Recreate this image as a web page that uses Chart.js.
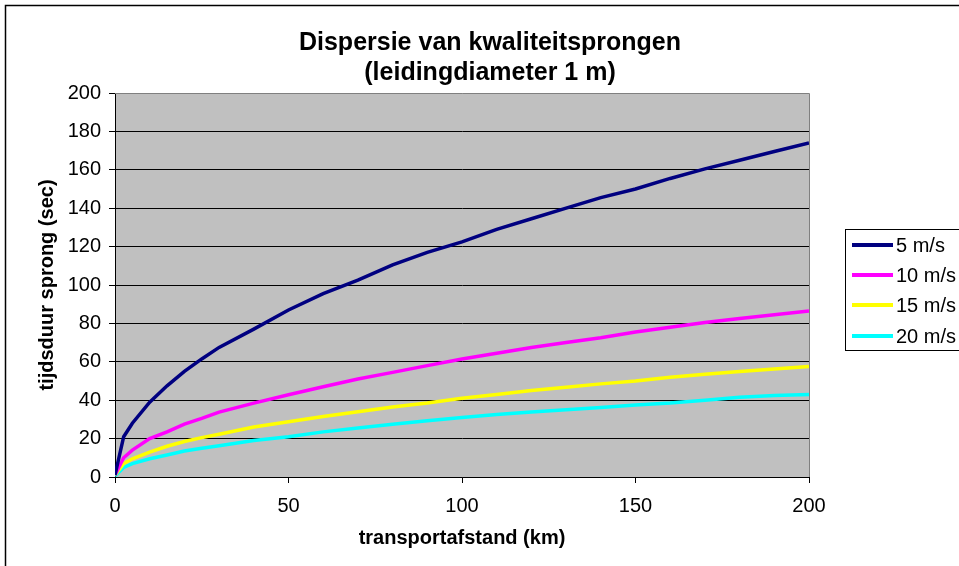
<!DOCTYPE html>
<html>
<head>
<meta charset="utf-8">
<script src="https://cdn.jsdelivr.net/npm/chart.js@4/dist/chart.umd.min.js"></script>
<style>
  html, body { margin: 0; padding: 0; background: #ffffff; }
  #wrap { width: 959px; height: 566px; }
</style>
</head>
<body>
<div id="wrap"><canvas id="chart" width="959" height="566"></canvas></div>
<script>
// Transport distance (km) at which each series is sampled
const afstand = [0, 2.5, 5, 10, 15, 20, 25, 30, 40, 50, 60, 70, 80, 90, 100, 110, 120, 130, 140, 150, 160, 170, 180, 190, 200];

// Duration of the quality jump (sec) per flow velocity
const snelheid5 = [1, 21, 28, 39, 47.5, 55, 61.5, 67.5, 77, 87, 95.5, 102.5, 110.5, 117, 122.5, 129, 134.5, 140, 145.5, 150, 155.5, 160.5, 165, 169.5, 174];
const snelheid10 = [1, 10, 14, 20, 23.5, 27.5, 30.5, 33.8, 38.5, 42.8, 47, 51, 54.5, 58, 61.5, 64.5, 67.5, 70, 72.5, 75.5, 78, 80.5, 82.5, 84.5, 86.5];
const snelheid15 = [1, 7, 9.5, 13, 16, 18.5, 20.5, 22.3, 26, 28.8, 31.5, 34, 36.5, 38.5, 41, 43, 45, 46.8, 48.5, 50, 52, 53.5, 55, 56.3, 57.5];
const snelheid20 = [0.5, 5, 7, 9.5, 11.5, 13.5, 15, 16.3, 19, 21, 23.5, 25.5, 27.5, 29.3, 31, 32.5, 33.8, 35, 36.2, 37.5, 38.5, 40, 41.5, 42.5, 43];

const reeksNamen = ['5 m/s', '10 m/s', '15 m/s', '20 m/s'];
const reeksKleuren = ['#000080', '#FF00FF', '#FFFF00', '#00FFFF'];
const xTicks = [0, 50, 100, 150, 200];
const yTicks = [0, 20, 40, 60, 80, 100, 120, 140, 160, 180, 200];
const titelRegels = ['Dispersie van kwaliteitsprongen', '(leidingdiameter 1 m)'];

const FONT = '"Liberation Sans", Arial, sans-serif';
const reeksen = [snelheid5, snelheid10, snelheid15, snelheid20];

const datasets = reeksen.map((waarden, i) => ({
  label: reeksNamen[i],
  data: afstand.map((x, j) => ({ x: x, y: waarden[j] })),
  borderColor: reeksKleuren[i],
  backgroundColor: reeksKleuren[i],
  borderWidth: 3.5,
  pointRadius: 0,
  tension: 0,
  fill: false
}));

// Page frame, grey plot background, plot border, title and legend box
const decor = {
  id: 'decor',
  beforeDraw(chart) {
    const { ctx, chartArea: a } = chart;
    ctx.save();
    ctx.fillStyle = '#ffffff';
    ctx.fillRect(0, 0, chart.width, chart.height);
    ctx.fillStyle = '#C0C0C0';
    ctx.fillRect(a.left, a.top, a.right - a.left, a.bottom - a.top);
    ctx.restore();
  },
  afterDraw(chart) {
    const { ctx, chartArea: a } = chart;
    ctx.save();
    // grey plot border (top and right)
    ctx.strokeStyle = '#808080';
    ctx.lineWidth = 1;
    ctx.beginPath();
    ctx.moveTo(a.left, a.top + 0.5);
    ctx.lineTo(a.right + 0.5, a.top + 0.5);
    ctx.lineTo(a.right + 0.5, a.bottom);
    ctx.stroke();

    // outer frame
    ctx.strokeStyle = '#000000';
    ctx.lineWidth = 1.5;
    ctx.strokeRect(5.5, 5.5, 1000, 700);

    // title
    ctx.fillStyle = '#000000';
    ctx.font = 'bold 25px ' + FONT;
    ctx.textAlign = 'center';
    ctx.textBaseline = 'middle';
    ctx.fillText(titelRegels[0], 490, 43);
    ctx.fillText(titelRegels[1], 490, 73);

    // legend
    ctx.lineWidth = 1;
    ctx.strokeStyle = '#000000';
    ctx.fillStyle = '#ffffff';
    ctx.fillRect(845.5, 229.5, 200, 121);
    ctx.strokeRect(845.5, 229.5, 200, 121);
    const rijY = [245, 275, 305, 336];
    ctx.font = '20px ' + FONT;
    ctx.textAlign = 'left';
    chart.data.datasets.forEach((ds, i) => {
      ctx.strokeStyle = ds.borderColor;
      ctx.lineWidth = 4;
      ctx.beginPath();
      ctx.moveTo(852, rijY[i]);
      ctx.lineTo(893, rijY[i]);
      ctx.stroke();
      ctx.fillStyle = '#000000';
      ctx.fillText(ds.label, 896, rijY[i] + 1);
    });
    ctx.restore();
  }
};

new Chart(document.getElementById('chart'), {
  type: 'line',
  data: { datasets: datasets },
  plugins: [decor],
  options: {
    responsive: false,
    animation: false,
    layout: { padding: { top: 93, right: 150, bottom: 0, left: 0 } },
    plugins: {
      legend: { display: false },
      title: { display: false },
      tooltip: { enabled: false }
    },
    scales: {
      x: {
        type: 'linear',
        min: 0,
        max: 200,
        afterBuildTicks(scale) { scale.ticks = xTicks.map(v => ({ value: v })); },
        afterFit(scale) { scale.height = 89; },
        ticks: {
          color: '#000000',
          font: { family: FONT, size: 20 },
          padding: 11,
          maxRotation: 0,
          autoSkip: false
        },
        grid: {
          drawOnChartArea: false,
          tickLength: 6,
          color: '#000000',
          tickColor: '#000000'
        },
        border: { color: '#000000', width: 1 },
        title: {
          display: true,
          text: 'transportafstand (km)',
          color: '#000000',
          font: { family: FONT, size: 20, weight: 'bold' },
          padding: { top: 0, bottom: 16 }
        }
      },
      y: {
        type: 'linear',
        min: 0,
        max: 200,
        afterBuildTicks(scale) { scale.ticks = yTicks.map(v => ({ value: v })); },
        afterFit(scale) { scale.width = 115; },
        ticks: {
          color: '#000000',
          font: { family: FONT, size: 20 },
          padding: 8,
          autoSkip: false
        },
        grid: {
          tickLength: 6,
          color: (c) => (c.tick && c.tick.value === 200) ? 'rgba(0,0,0,0)' : '#000000',
          tickColor: '#000000',
          lineWidth: 1
        },
        border: { color: '#000000', width: 1 },
        title: {
          display: true,
          text: 'tijdsduur sprong (sec)',
          color: '#000000',
          font: { family: FONT, size: 20, weight: 'bold' },
          padding: { top: 35, bottom: 0 }
        }
      }
    }
  }
});
</script>
</body>
</html>
